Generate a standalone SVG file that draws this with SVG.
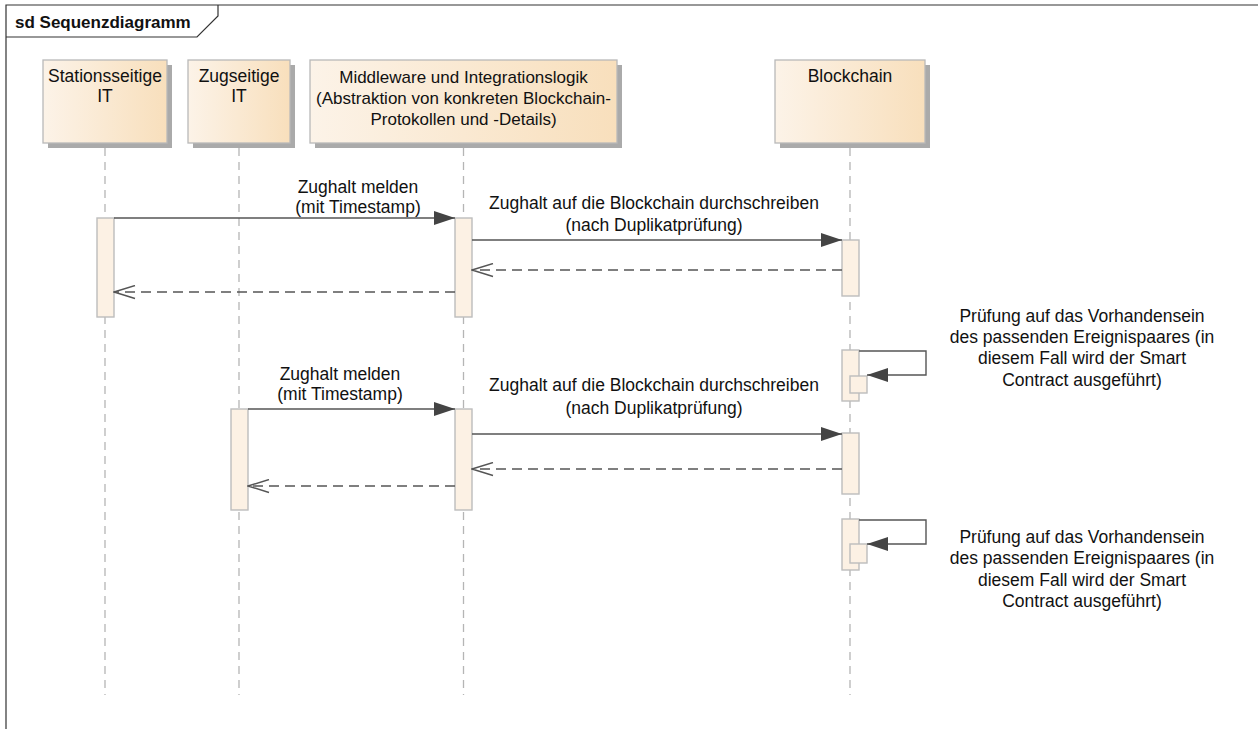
<svg xmlns="http://www.w3.org/2000/svg" width="1258" height="729" viewBox="0 0 1258 729">
<style>
.t{font-family:"Liberation Sans",Arial,sans-serif;font-size:17.5px;fill:#111;text-anchor:middle}
.tm{font-size:17px}
.title{font-family:"Liberation Sans",Arial,sans-serif;font-size:17px;font-weight:bold;fill:#111}
.head{fill:url(#hg);stroke:#b9b9b9;stroke-width:1.3}
.shadow{fill:#aaaaaa}
.life{stroke:#b5b5b5;stroke-width:1.3;stroke-dasharray:8 6;fill:none}
.act{fill:#fcf1e4;stroke:#bdbdbd;stroke-width:1.4}
.msg{stroke:#555;stroke-width:1.4;fill:none;marker-end:url(#filled)}
.ret{stroke:#555;stroke-width:1.4;fill:none;stroke-dasharray:10 6;marker-end:url(#open)}
.frame{stroke:#333;stroke-width:1.2;fill:none}
</style>
<defs>
<linearGradient id="hg" x1="0" y1="0" x2="1" y2="0">
<stop offset="0" stop-color="#fcf3e8"/>
<stop offset="1" stop-color="#f8dfbc"/>
</linearGradient>
<marker id="filled" viewBox="0 0 21 14" refX="21" refY="7" markerWidth="21" markerHeight="14" orient="auto" markerUnits="userSpaceOnUse">
<path d="M0,0 L21,7 L0,14 z" fill="#444"/>
</marker>
<marker id="open" viewBox="-1 -1 23 15" refX="21" refY="6.5" markerWidth="23" markerHeight="15" orient="auto" markerUnits="userSpaceOnUse">
<path d="M0,0 L21,6.5 L0,13" fill="none" stroke="#555" stroke-width="1.4"/>
</marker>
</defs>
<rect x="0" y="0" width="1258" height="729" fill="#fff"/>
<g id="frame">
<path class="frame" d="M6,735 V5 H1265"/>
<path class="frame" d="M6,37 H197 L218,16 V5"/>
<text class="title" x="15" y="28">sd Sequenzdiagramm</text>
</g>
<g id="lifelines">
<line class="life" x1="105" y1="148" x2="105" y2="695"/>
<line class="life" x1="239" y1="148" x2="239" y2="695"/>
<line class="life" x1="463.5" y1="148" x2="463.5" y2="695"/>
<line class="life" x1="850" y1="148" x2="850" y2="695"/>
</g>
<g id="station">
<rect class="shadow" x="48" y="65" width="124" height="83"/>
<rect class="head" x="43" y="60" width="124" height="83"/>
<text class="t" x="105" y="82">Stationsseitige</text>
<text class="t" x="105" y="102">IT</text>
</g>
<g id="zug">
<rect class="shadow" x="193" y="65" width="102" height="83"/>
<rect class="head" x="188" y="60" width="102" height="83"/>
<text class="t" x="239" y="82">Zugseitige</text>
<text class="t" x="239" y="102">IT</text>
</g>
<g id="middleware">
<rect class="shadow" x="315" y="65" width="307" height="83"/>
<rect class="head" x="310" y="60" width="307" height="83"/>
<text class="t tm" x="463.5" y="83">Middleware und Integrationslogik</text>
<text class="t tm" x="463.5" y="104">(Abstraktion von konkreten Blockchain-</text>
<text class="t tm" x="463.5" y="125">Protokollen und -Details)</text>
</g>
<g id="blockchain">
<rect class="shadow" x="780" y="65" width="150" height="83"/>
<rect class="head" x="775" y="60" width="150" height="83"/>
<text class="t" x="850" y="82">Blockchain</text>
</g>
<g id="activations">
<rect class="act" x="97" y="218" width="17" height="99"/>
<rect class="act" x="455" y="218" width="17" height="99"/>
<rect class="act" x="842" y="240" width="17" height="56"/>
<rect class="act" x="842" y="350" width="17" height="51"/>
<rect class="act" x="850" y="376" width="17" height="17"/>
<rect class="act" x="231" y="409" width="17" height="101"/>
<rect class="act" x="455" y="409" width="17" height="101"/>
<rect class="act" x="842" y="433" width="17" height="61"/>
<rect class="act" x="842" y="519" width="17" height="51"/>
<rect class="act" x="850" y="544" width="17" height="19"/>
</g>
<g id="connectors">
<line class="msg" x1="114" y1="218" x2="455" y2="218"/>
<line class="msg" x1="472" y1="240" x2="842" y2="240"/>
<line class="ret" x1="842" y1="270" x2="472" y2="270"/>
<line class="ret" x1="455" y1="292" x2="114" y2="292"/>
<path class="msg" d="M859,351 H926 V375 H867"/>
<line class="msg" x1="248" y1="409" x2="455" y2="409"/>
<line class="msg" x1="472" y1="434" x2="842" y2="434"/>
<line class="ret" x1="842" y1="469" x2="472" y2="469"/>
<line class="ret" x1="455" y1="486" x2="248" y2="486"/>
<path class="msg" d="M859,520 H926 V544 H867"/>
</g>
<g id="labels">
<text class="t" x="358" y="193">Zughalt melden</text>
<text class="t" x="358" y="213">(mit Timestamp)</text>
<text class="t" x="654" y="209">Zughalt auf die Blockchain durchschreiben</text>
<text class="t" x="654" y="231">(nach Duplikatprüfung)</text>
<text class="t" x="1082" y="322">Prüfung auf das Vorhandensein</text>
<text class="t" x="1082" y="343">des passenden Ereignispaares (in</text>
<text class="t" x="1082" y="364">diesem Fall wird der Smart</text>
<text class="t" x="1082" y="386">Contract ausgeführt)</text>
<text class="t" x="340" y="380">Zughalt melden</text>
<text class="t" x="340" y="400">(mit Timestamp)</text>
<text class="t" x="654" y="391">Zughalt auf die Blockchain durchschreiben</text>
<text class="t" x="654" y="414">(nach Duplikatprüfung)</text>
<text class="t" x="1082" y="543">Prüfung auf das Vorhandensein</text>
<text class="t" x="1082" y="564">des passenden Ereignispaares (in</text>
<text class="t" x="1082" y="586">diesem Fall wird der Smart</text>
<text class="t" x="1082" y="607">Contract ausgeführt)</text>
</g>
</svg>
